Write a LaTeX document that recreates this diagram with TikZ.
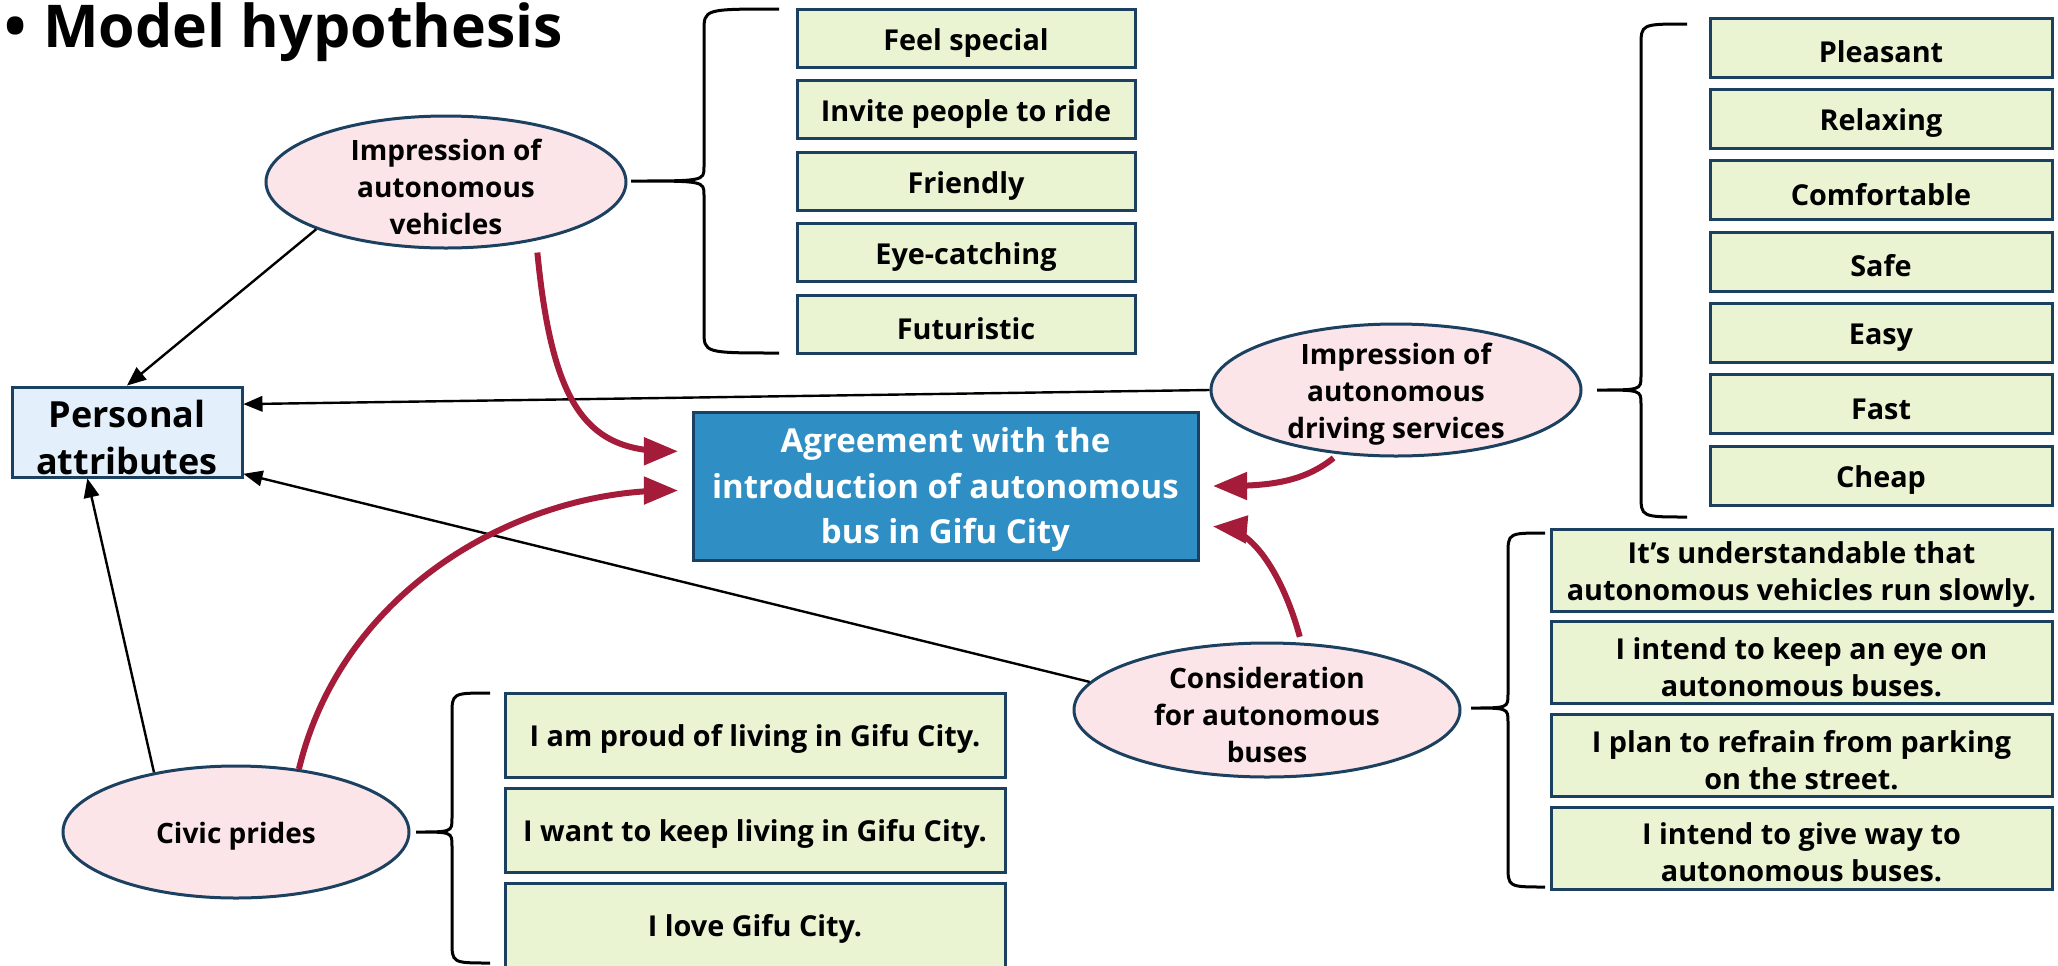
\documentclass[tikz,border=0pt]{standalone}
\usepackage{fontspec}
\setmainfont{Open Sans}
\usepackage{tikz}
\usetikzlibrary{arrows,shapes.geometric,calc}

\definecolor{navy}{HTML}{1B4060}
\definecolor{pinkfill}{HTML}{FBE5E8}
\definecolor{greenfill}{HTML}{EAF4D3}
\definecolor{paleblue}{HTML}{E3F0FB}
\definecolor{busblue}{HTML}{2F8FC4}
\definecolor{crimson}{HTML}{A51C3B}

\tikzset{
	factor/.style={ellipse, draw=navy, line width=1.5pt, fill=pinkfill, inner xsep=0pt, inner ysep=-8pt, align=center, font=\bfseries\fontsize{14}{18.5}\selectfont},
	item/.style={rectangle, draw=navy, line width=1.5pt, fill=greenfill, inner sep=0pt, align=center, font=\bfseries\fontsize{14.4}{18.5}\selectfont},
	effect/.style={->, black, line width=1.2pt},
	impact/.style={->, crimson, line width=3pt},
	curly/.style={black, line width=1.5pt}
}

% pushes the text a little lower in its shape
\newcommand{\padtop}[1][15.3pt]{\rule{0pt}{#1}}

% tip x, spine x, end x, top y, tip y, bottom y
\newcommand{\groupbrace}[6]{%
	\draw[curly] (#3,#4) .. controls (#2,#4) .. (#2,{#4+22}) -- (#2,{#5-14})
		.. controls (#2,#5) .. (#1,#5) .. controls (#2,#5) .. (#2,{#5+14})
		-- (#2,{#6-22}) .. controls (#2,#6) .. (#3,#6);}

\begin{document}
\begin{tikzpicture}[>=triangle 45, x=0.5pt, y=-0.5pt]

	\useasboundingbox (0,0) rectangle (2058,965);

	\node [anchor=base west, font=\bfseries\fontsize{29.5}{34}\selectfont] (title) at (-3,47) {\textbullet\hspace{8.5pt}Model hypothesis};

	\node [factor, minimum width=180pt, minimum height=66pt] (impAV) at (446,182) {\padtop Impression of\\autonomous\\vehicles};
	\node [factor, minimum width=185pt, minimum height=66pt] (impDS) at (1396,390) {\padtop Impression of\\autonomous\\driving services};
	\node [factor, minimum width=193pt, minimum height=67pt] (consid) at (1267,710) {\padtop Consideration\\for autonomous\\buses};
	\node [factor, minimum width=173pt, minimum height=66pt] (civic) at (236,832) {\padtop Civic prides};

	\node [draw=navy, line width=1.5pt, fill=paleblue, minimum width=115pt, minimum height=45pt, inner sep=0pt, align=center, font=\bfseries\fontsize{18}{23.5}\selectfont] (pers) at (127,432) {\padtop[19.2pt]Personal\\attributes};
	\node [draw=navy, line width=1.5pt, fill=busblue, text=white, minimum width=252.5pt, minimum height=74pt, inner sep=0pt, align=center, font=\bfseries\fontsize{16.5}{22.7}\selectfont] (agree) at (945.5,486) {\padtop[16.3pt]Agreement with the\\introduction of autonomous\\bus in Gifu City};

	% item boxes
	\foreach \txt [count=\i] in {Feel special, Invite people to ride, Friendly, Eye-catching, Futuristic}
		\node [item, minimum width=169pt, minimum height=29pt] (av\i) at (966,{38.5+71.4*(\i-1)}) {\padtop\txt};
	\foreach \txt [count=\i] in {Pleasant, Relaxing, Comfortable, Safe, Easy, Fast, Cheap}
		\node [item, minimum width=171pt, minimum height=29.5pt] (ds\i) at (1881,{47.8+71.3*(\i-1)}) {\padtop\txt};
	\foreach \txt [count=\i] in {{It's understandable that\\autonomous vehicles run slowly.}, {I intend to keep an eye on\\autonomous buses.}, {I plan to refrain from parking\\on the street.}, {I intend to give way to\\autonomous buses.}}
		\node [item, minimum width=250.5pt, minimum height=41pt] (cs\i) at (1801.5,{570+92.7*(\i-1)}) {\padtop\txt};
	\foreach \txt [count=\i] in {I am proud of living in Gifu City., I want to keep living in Gifu City., I love Gifu City.}
		\node [item, minimum width=250pt, minimum height=42pt] (cp\i) at (755,{735+95*(\i-1)}) {\padtop\txt};

	\groupbrace{631}{704}{779}{9}{181}{353}
	\groupbrace{1597}{1641}{1687}{24}{390}{517}
	\groupbrace{1471}{1508}{1545}{533}{708}{887}
	\groupbrace{416}{452}{490}{693}{832}{963}

	\draw[effect] (impAV.200) -- (pers.north);
	\draw[effect] (impDS.west) -- ($(pers.north east)!0.2!(pers.south east)$);
	\draw[effect] (consid.171) -- ($(pers.north east)!0.95!(pers.south east)$);
	\draw[effect] (civic.144) -- ($(pers.south west)!0.33!(pers.south east)$);

	\draw[impact, shorten <=6pt, shorten >=7pt] (impAV.-33) .. controls +(16,165) and +(-105,0) .. ($(agree.north west)!0.27!(agree.south west)$);
	\draw[impact, shorten >=7pt] (civic.45) .. controls +(43,-180) and +(-173,0) .. ($(agree.north west)!0.53!(agree.south west)$);
	\draw[impact, shorten <=3pt, shorten >=7pt] (impDS.228) .. controls +(-36,29) and +(67,0) .. (agree.east);
	\draw[impact, shorten <=3pt, shorten >=7pt] (consid.63) .. controls +(-16,-59) and +(57,5) .. ($(agree.north east)!0.76!(agree.south east)$);

\end{tikzpicture}
\end{document}
